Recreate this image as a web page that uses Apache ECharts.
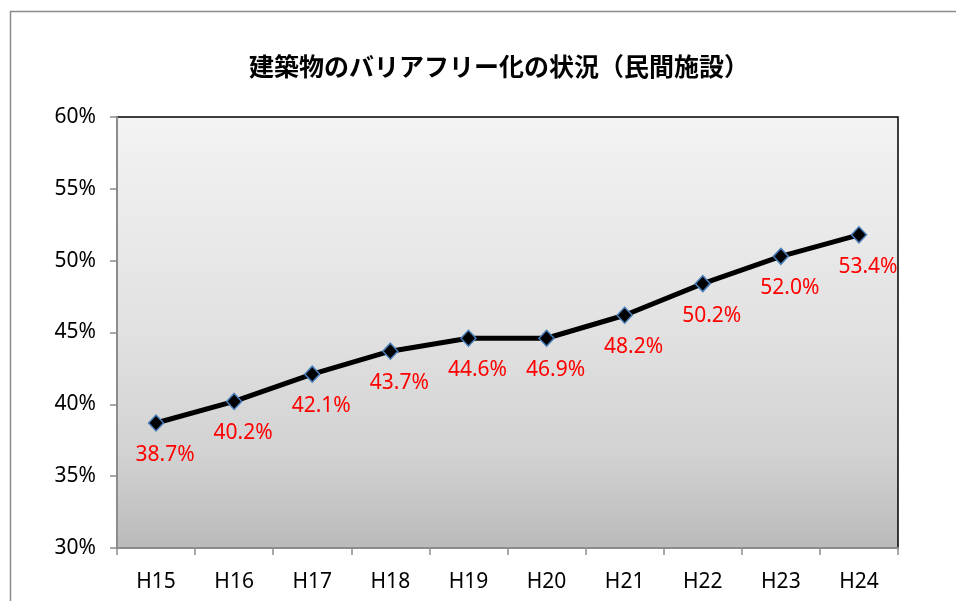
<!DOCTYPE html>
<html><head><meta charset="utf-8">
<script src="https://cdn.jsdelivr.net/npm/echarts@6/dist/echarts.min.js"></script>
<style>html,body{margin:0;padding:0;background:#fff}#c{width:956px;height:601px}</style>
</head><body><div id="c"></div>
<script>
const categories = ['H15','H16','H17','H18','H19','H20','H21','H22','H23','H24'];
const values = [38.7, 40.2, 42.1, 43.7, 44.6, 44.6, 46.2, 48.4, 50.3, 51.8];
const pointLabels = ['38.7%','40.2%','42.1%','43.7%','44.6%','46.9%','48.2%','50.2%','52.0%','53.4%'];
const yTicks = {min: 30, max: 60, interval: 5};
const titleText = '建築物のバリアフリー化の状況（民間施設）';

const chart = echarts.init(document.getElementById('c'), null, {renderer: 'canvas'});
chart.setOption({
  animation: false,
  backgroundColor: '#fff',
  graphic: [{
    type: 'rect', z: -10, silent: true,
    shape: {x: 10.5, y: 11.5, width: 1000, height: 700},
    style: {fill: 'none', stroke: '#8c8c8c', lineWidth: 1.5}
  }],
  title: {
    text: titleText, left: 494, top: 49, textAlign: 'center',
    textStyle: {fontFamily: 'Noto Sans CJK JP', fontWeight: 'bold', fontSize: 25, color: '#000'}
  },
  grid: {
    left: 117, top: 117, right: 58, bottom: 53, show: true,
    borderColor: '#000', borderWidth: 1.5,
    backgroundColor: new echarts.graphic.LinearGradient(0, 0, 0, 1, [
      {offset: 0, color: '#f3f3f3'},
      {offset: 0.5, color: '#e1e1e1'},
      {offset: 0.78, color: '#d2d2d2'},
      {offset: 1, color: '#bababa'}
    ])
  },
  xAxis: {
    type: 'category', data: categories, boundaryGap: true,
    axisLine: {lineStyle: {color: '#8c8c8c', width: 2}},
    axisTick: {show: true, length: 7, lineStyle: {color: '#8c8c8c', width: 1.5}},
    axisLabel: {margin: 24, color: '#000', fontSize: 21, fontFamily: 'Noto Sans'}
  },
  yAxis: {
    type: 'value', min: yTicks.min, max: yTicks.max, interval: yTicks.interval,
    axisLine: {show: true, lineStyle: {color: '#8c8c8c', width: 2}},
    axisTick: {show: true, length: 7, lineStyle: {color: '#8c8c8c', width: 1.5}},
    splitLine: {show: false},
    axisLabel: {margin: 21, color: '#000', fontSize: 21, fontFamily: 'Noto Sans', formatter: '{value}%'}
  },
  series: [{
    type: 'line', data: values,
    symbol: 'diamond', symbolSize: [15, 16],
    itemStyle: {color: '#000', borderColor: '#4a7ebb', borderWidth: 1.5},
    lineStyle: {color: '#000', width: 5},
    label: {
      show: true, position: 'inside', offset: [9, 32],
      formatter: p => pointLabels[p.dataIndex],
      color: '#ff0000', fontSize: 21, fontFamily: 'Noto Sans'
    }
  }]
});
</script></body></html>
